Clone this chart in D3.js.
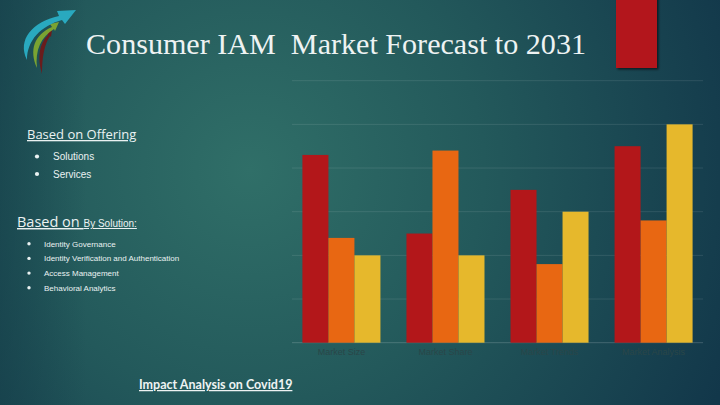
<!DOCTYPE html>
<html><head><meta charset="utf-8">
<script src="https://cdn.jsdelivr.net/npm/d3@7"></script>
<style>html,body{margin:0;padding:0;background:#1b4a52;}svg{display:block;}</style>
</head><body>
<svg id="c" width="720" height="405"></svg>
<script>
const categories = ["Market Size", "Market Share", "Market Trends", "Market Analysis"];
const seriesNames = ["Series 1", "Series 2", "Series 3"];
const series1 = [4.3, 2.5, 3.5, 4.5];
const series2 = [2.4, 4.4, 1.8, 2.8];
const series3 = [2.0, 2.0, 3.0, 5.0];
const yTicks = [0, 1, 2, 3, 4, 5, 6];
const colors = ["#b3171a", "#e86712", "#e6b82c"];
const offeringItems = ["Solutions", "Services"];
const solutionItems = ["Identity Governance", "Identity Verification and Authentication", "Access Management", "Behavioral Analytics"];

const svg = d3.select("#c");
const defs = svg.append("defs");
const rg = defs.append("radialGradient").attr("id","bg").attr("gradientUnits","userSpaceOnUse")
  .attr("cx",250).attr("cy",170).attr("r",520);
rg.append("stop").attr("offset","0").attr("stop-color","#306f68");
rg.append("stop").attr("offset","0.45").attr("stop-color","#23595b");
rg.append("stop").attr("offset","1").attr("stop-color","#12374a");
svg.append("rect").attr("width",720).attr("height",405).attr("fill","url(#bg)");
const lg = defs.append("linearGradient").attr("id","edge").attr("x1",0).attr("x2",1).attr("y1",0).attr("y2",0);
lg.append("stop").attr("offset","0").attr("stop-color","#143c48").attr("stop-opacity",0.55);
lg.append("stop").attr("offset","0.12").attr("stop-color","#143c48").attr("stop-opacity",0);
svg.append("rect").attr("width",720).attr("height",405).attr("fill","url(#edge)");

// decorative red block with shadow
const sh = defs.append("filter").attr("id","sh").attr("x","-20%").attr("y","-20%").attr("width","150%").attr("height","150%");
sh.append("feDropShadow").attr("dx",1.5).attr("dy",1.5).attr("stdDeviation",1).attr("flood-color","#000").attr("flood-opacity",0.6);
svg.append("rect").attr("x",616).attr("y",-5).attr("width",41).attr("height",73).attr("fill","#b3171a").attr("filter","url(#sh)");

// logo swoosh
const logo = svg.append("g");
logo.append("path").attr("d","M42,74 C37,58 39,44 48,35 L46,32 L52,30 L51,37 L50,36 C44,45 42,58 42,74 Z").attr("fill","#6a1c1c");
logo.append("path").attr("d","M37,68 C29,50 34,35 52,27 L50,24 L59,22 L55,31 L54,29 C41,37 35,50 37,68 Z").attr("fill","#7aa332");
logo.append("path").attr("d","M27,60 C17,40 32,22 59,16 L57,11 L76,10 L65,24 L62,20 C41,26 27,40 27,60 Z").attr("fill","#29a9bf");

// title
svg.append("text").attr("x",86).attr("y",53.5).attr("font-family","'Liberation Serif', serif")
  .attr("font-size",29).attr("fill","#eef3f3").attr("textLength",500).attr("lengthAdjust","spacingAndGlyphs")
  .style("white-space","pre").text("Consumer IAM  Market Forecast to 2031");

// left text
const lt = svg.append("g").attr("fill","#eaf2f2");
lt.append("text").attr("x",27).attr("y",139).attr("font-family","'Open Sans', sans-serif").attr("font-size",13)
  .attr("text-decoration","underline").text("Based on Offering");
offeringItems.forEach((t,i)=>{
  const yy = 160 + i*17.5;
  lt.append("circle").attr("cx",37).attr("cy",yy-3.5).attr("r",2.1).attr("fill","#eaf2f2");
  lt.append("text").attr("x",53).attr("y",yy).attr("font-family","'Liberation Sans', Arial, sans-serif").attr("font-size",10).text(t);
});
const b2 = lt.append("text").attr("x",17).attr("y",227).attr("font-family","'Open Sans', sans-serif").attr("text-decoration","underline");
b2.append("tspan").attr("font-size",14.5).text("Based on ");
b2.append("tspan").attr("font-family","'Liberation Sans', Arial, sans-serif").attr("font-size",10).text("By Solution:");
solutionItems.forEach((t,i)=>{
  const yy = 246.5 + i*14.7;
  lt.append("circle").attr("cx",29).attr("cy",yy-2.8).attr("r",1.7).attr("fill","#eaf2f2");
  lt.append("text").attr("x",44).attr("y",yy).attr("font-family","'Liberation Sans', Arial, sans-serif").attr("font-size",8).text(t);
});
svg.append("text").attr("x",139).attr("y",389).attr("font-family","Lato, sans-serif").attr("font-weight","bold")
  .attr("font-size",12.5).attr("fill","#eef3f3").attr("text-decoration","underline").text("Impact Analysis on Covid19");

// chart
const plot = {left:292, right:703, top:80.7, bottom:342.7};
const x0 = d3.scaleBand().domain(categories).range([plot.left, plot.right]).paddingInner(0.25).paddingOuter(0.1);
const x1 = d3.scaleBand().domain(seriesNames).range([0, x0.bandwidth()]);
const y = d3.scaleLinear().domain([0,6]).range([plot.bottom, plot.top]);

const grid = svg.append("g");
grid.selectAll("line").data(yTicks).join("line")
  .attr("x1",plot.left).attr("x2",plot.right).attr("y1",d=>y(d)).attr("y2",d=>y(d))
  .attr("stroke","#ffffff").attr("stroke-opacity",d=>d===0?0.18:0.1).attr("stroke-width",1);

const data = categories.map((c,i)=>({cat:c, vals:[series1[i],series2[i],series3[i]]}));
const groups = svg.append("g").selectAll("g").data(data).join("g").attr("transform",d=>`translate(${x0(d.cat)},0)`);
groups.selectAll("rect").data(d=>d.vals.map((v,j)=>({v, s:seriesNames[j], j}))).join("rect")
  .attr("x",d=>x1(d.s)).attr("width",x1.bandwidth()).attr("y",d=>y(d.v)).attr("height",d=>y(0)-y(d.v))
  .attr("fill",d=>colors[d.j]);

const xAxis = svg.append("g").attr("transform",`translate(0,${plot.bottom})`)
  .call(d3.axisBottom(x0).tickSize(0).tickPadding(6));
xAxis.select(".domain").remove();
xAxis.selectAll("text").attr("font-family","'Liberation Sans', Arial, sans-serif").attr("font-size",9).attr("fill","#2a4648");
</script>
</body></html>
